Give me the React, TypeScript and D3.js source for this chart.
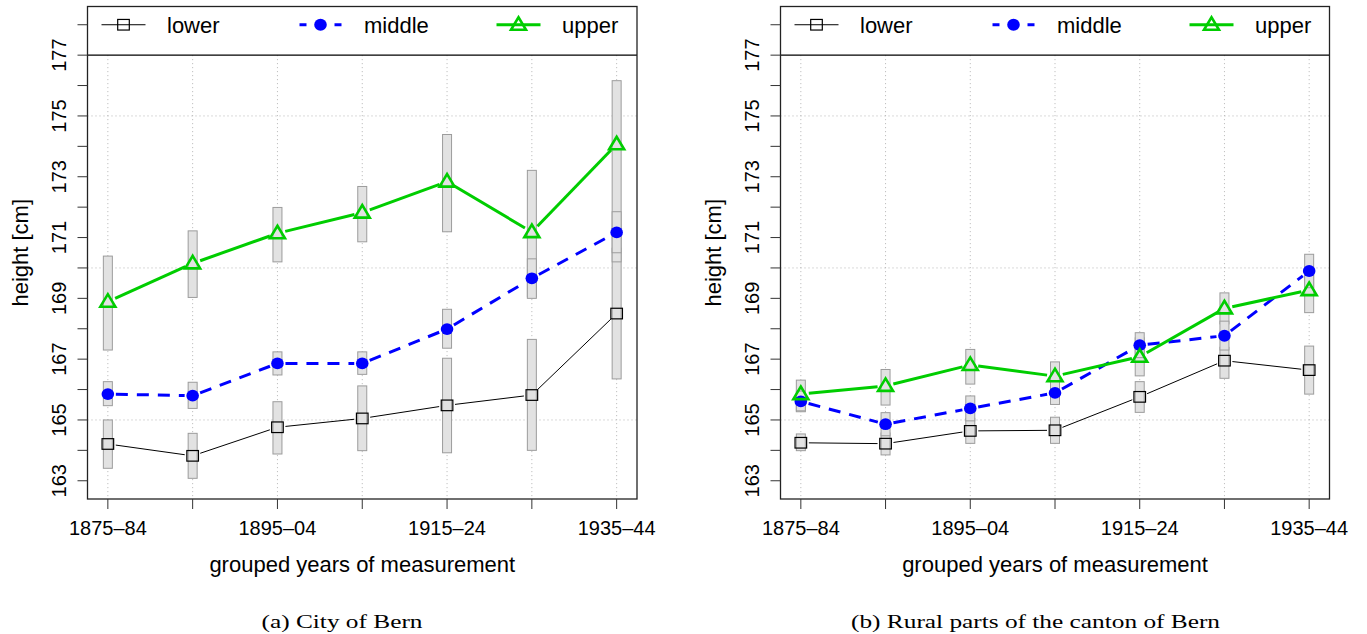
import React from "react";
import * as d3 from "d3";

// grouped years of measurement (x categories)
const periods = ["1875–84", "1885–94", "1895–04", "1905–14", "1915–24", "1925–34", "1935–44"];
const labelledPeriods = ["1875–84", "1895–04", "1915–24", "1935–44"];
const yTicks = d3.range(163, 179);
const yLabels = [163, 165, 167, 169, 171, 173, 175, 177];
const gridY = [165, 170, 175];

// (a) City of Bern
const cityLower = [164.21, 163.82, 164.76, 165.05, 165.48, 165.82, 168.5];
const cityLowerLo = [163.41, 163.08, 163.88, 163.99, 163.92, 164.0, 166.35];
const cityLowerHi = [165.0, 164.56, 165.6, 166.12, 167.03, 167.65, 170.65];
const cityMiddle = [165.85, 165.8, 166.86, 166.86, 167.99, 169.66, 171.17];
const cityMiddleLo = [165.47, 165.38, 166.48, 166.5, 167.36, 169.0, 170.5];
const cityMiddleHi = [166.26, 166.24, 167.24, 167.24, 168.64, 170.3, 171.85];
const cityUpper = [168.89, 170.15, 171.14, 171.82, 172.84, 171.18, 174.07];
const cityUpperLo = [167.3, 169.03, 170.2, 170.86, 171.19, 169.05, 170.2];
const cityUpperHi = [170.39, 171.22, 171.99, 172.68, 174.39, 173.21, 176.16];

// (b) Rural parts of the canton of Bern
const ruralLower = [164.25, 164.22, 164.64, 164.66, 165.76, 166.95, 166.64];
const ruralLowerLo = [163.99, 163.85, 164.23, 164.23, 165.25, 166.37, 165.85];
const ruralLowerHi = [164.54, 164.57, 165.05, 165.09, 166.26, 167.39, 167.43];
const ruralMiddle = [165.61, 164.86, 165.38, 165.89, 167.46, 167.77, 169.9];
const ruralMiddleLo = [165.3, 164.48, 164.97, 165.51, 167.05, 167.3, 169.35];
const ruralMiddleHi = [165.95, 165.24, 165.79, 166.27, 167.87, 168.25, 170.45];
const ruralUpper = [165.85, 166.12, 166.81, 166.44, 167.08, 168.67, 169.27];
const ruralUpperLo = [165.27, 165.49, 166.18, 166.0, 166.45, 168.16, 168.53];
const ruralUpperHi = [166.31, 166.66, 167.32, 166.91, 167.7, 169.18, 170.0];

const seriesNames = ["lower", "middle", "upper"];

const WIDTH = 1367;
const HEIGHT = 634;
const TOP = 6.5;
const BOTTOM = 499;
const SANS = "'Liberation Sans', Arial, Helvetica, sans-serif";
const SERIF = "'Liberation Serif', 'Times New Roman', serif";

const STYLE: Record<string, { color: string; width: number; dash?: string }> = {
  lower: { color: "#000000", width: 1 },
  middle: { color: "#0000ff", width: 3, dash: "12 9" },
  upper: { color: "#00cd00", width: 3 },
};

type Series = { name: string; mid: number[]; lo: number[]; hi: number[] };

const Marker = ({ name, x, y }: { name: string; x: number; y: number }) => {
  if (name === "lower") {
    return (
      <rect x={x - 5.8} y={y - 5.3} width={11.6} height={10.6} fill="none" stroke="#000" strokeWidth={1.2} />
    );
  }
  if (name === "middle") {
    return <ellipse cx={x} cy={y} rx={6.3} ry={5.9} fill="#0000ff" />;
  }
  const tri = d3.line()([
    [x - 7.5, y + 5],
    [x + 7.5, y + 5],
    [x, y - 7.5],
  ]);
  return <path d={tri + "Z"} fill="none" stroke="#00cd00" strokeWidth={2.6} strokeLinejoin="miter" />;
};

const Panel = ({ x0, x1, series, caption, captionX, captionLen }: {
  x0: number; x1: number; series: Series[]; caption: string; captionX: number; captionLen: number;
}) => {
  const x = d3.scaleLinear().domain([0.76, 7.24]).range([x0, x1]);
  const y = d3.scaleLinear().domain([162.4, 178.6]).range([BOTTOM, TOP]);
  const legendBottom = y(177);
  const gap = 8;

  // type = "b": segments with gaps around the points
  const segments = (s: Series) =>
    s.mid.slice(1).map((v, i) => {
      const ax = x(i + 1), ay = y(s.mid[i]);
      const bx = x(i + 2), by = y(v);
      const len = Math.hypot(bx - ax, by - ay);
      const ux = (bx - ax) / len, uy = (by - ay) / len;
      return [ax + ux * gap, ay + uy * gap, bx - ux * gap, by - uy * gap];
    });

  const drawOrder = [series[0], series[2], series[1]];
  const legendX = [36, 233, 431];

  return (
    <g>
      {/* grid */}
      {periods.map((p, i) => (
        <line key={p} x1={x(i + 1)} x2={x(i + 1)} y1={legendBottom} y2={BOTTOM}
          stroke="#b5b5b5" strokeDasharray="1 3" />
      ))}
      {gridY.map((g) => (
        <line key={g} x1={x0} x2={x1} y1={y(g)} y2={y(g)} stroke="#b5b5b5" strokeDasharray="1 3" />
      ))}

      {/* interval bars */}
      {drawOrder.map((s) =>
        s.mid.map((_, i) => (
          <rect key={s.name + i} x={x(i + 1) - 4.5} width={9} y={y(s.hi[i])}
            height={y(s.lo[i]) - y(s.hi[i])} fill="#e2e2e2" stroke="#9c9c9c" strokeWidth={1} />
        ))
      )}

      {/* lines and points */}
      {series.map((s) => (
        <g key={s.name}>
          {segments(s).map((sg, i) => (
            <line key={i} x1={sg[0]} y1={sg[1]} x2={sg[2]} y2={sg[3]}
              stroke={STYLE[s.name].color} strokeWidth={STYLE[s.name].width}
              strokeDasharray={STYLE[s.name].dash} />
          ))}
          {s.mid.map((v, i) => (
            <Marker key={i} name={s.name} x={x(i + 1)} y={y(v)} />
          ))}
        </g>
      ))}

      {/* legend */}
      <rect x={x0} y={TOP} width={x1 - x0} height={legendBottom - TOP} fill="#fff" />
      <line x1={x0} x2={x1} y1={legendBottom} y2={legendBottom} stroke="#000" strokeWidth={1.2} />
      {seriesNames.map((n, k) => {
        const cx = x0 + legendX[k];
        const cy = y(178);
        const st = STYLE[n];
        return (
          <g key={n}>
            {n === "middle" ? (
              <>
                <line x1={cx - 21} x2={cx - 14} y1={cy} y2={cy} stroke={st.color} strokeWidth={st.width} />
                <line x1={cx + 14} x2={cx + 21} y1={cy} y2={cy} stroke={st.color} strokeWidth={st.width} />
              </>
            ) : (
              <line x1={cx - 22} x2={cx + 22} y1={cy} y2={cy} stroke={st.color} strokeWidth={st.width} />
            )}
            <Marker name={n} x={cx} y={cy} />
            <text x={cx + 43.5} y={cy + 8} fontSize={22} fontFamily={SANS}>{n}</text>
          </g>
        );
      })}

      {/* box */}
      <rect x={x0} y={TOP} width={x1 - x0} height={BOTTOM - TOP} fill="none" stroke="#222" strokeWidth={1.3} />

      {/* y axis */}
      {yTicks.map((t) => (
        <line key={t} x1={x0 - 10} x2={x0} y1={y(t)} y2={y(t)} stroke="#333" />
      ))}
      {yLabels.map((t) => (
        <text key={t} transform={`translate(${x0 - 22},${y(t)}) rotate(-90)`} textAnchor="middle"
          fontSize={20} fontFamily={SANS}>{t}</text>
      ))}
      <text transform={`translate(${x0 - 60},${(TOP + BOTTOM) / 2}) rotate(-90)`} textAnchor="middle"
        fontSize={22} fontFamily={SANS}>height [cm]</text>

      {/* x axis */}
      {periods.map((p, i) => (
        <line key={p} x1={x(i + 1)} x2={x(i + 1)} y1={BOTTOM} y2={BOTTOM + 10} stroke="#333" />
      ))}
      {labelledPeriods.map((p) => (
        <text key={p} x={x(periods.indexOf(p) + 1)} y={535} textAnchor="middle" fontSize={20}
          fontFamily={SANS}>{p}</text>
      ))}
      <text x={(x0 + x1) / 2} y={572} textAnchor="middle" fontSize={22} fontFamily={SANS}>
        grouped years of measurement
      </text>

      <text x={captionX} y={628} textAnchor="middle" fontSize={19} fontFamily={SERIF}
        textLength={captionLen} lengthAdjust="spacingAndGlyphs">{caption}</text>
    </g>
  );
};

const App = () => {
  const city: Series[] = [
    { name: "lower", mid: cityLower, lo: cityLowerLo, hi: cityLowerHi },
    { name: "middle", mid: cityMiddle, lo: cityMiddleLo, hi: cityMiddleHi },
    { name: "upper", mid: cityUpper, lo: cityUpperLo, hi: cityUpperHi },
  ];
  const rural: Series[] = [
    { name: "lower", mid: ruralLower, lo: ruralLowerLo, hi: ruralLowerHi },
    { name: "middle", mid: ruralMiddle, lo: ruralMiddleLo, hi: ruralMiddleHi },
    { name: "upper", mid: ruralUpper, lo: ruralUpperLo, hi: ruralUpperHi },
  ];
  return (
    <svg width={WIDTH} height={HEIGHT} style={{ position: "absolute", left: 0, top: 0, background: "#fff" }}>
      <rect width={WIDTH} height={HEIGHT} fill="#fff" />
      <Panel x0={87.5} x1={637} series={city} caption="(a) City of Bern" captionX={342} captionLen={161} />
      <Panel x0={780.5} x1={1329.5} series={rural} caption="(b) Rural parts of the canton of Bern"
        captionX={1035.5} captionLen={369} />
    </svg>
  );
};

export default App;
